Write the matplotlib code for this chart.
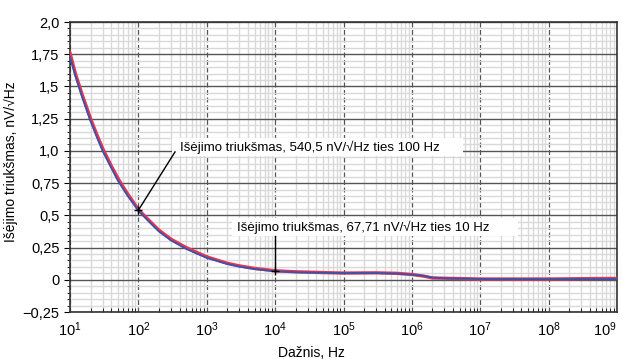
"""
output noise vs frequency (log x axis), two overlapping traces
"""

import matplotlib
matplotlib.use('Agg')
import matplotlib.pyplot as plt
from matplotlib.patches import Rectangle
from matplotlib.ticker import LogLocator, MultipleLocator

plt.rcParams['font.family'] = ['Liberation Sans', 'DejaVu Sans']
plt.rcParams['font.size'] = 10
plt.rcParams['mathtext.fontset'] = 'custom'
plt.rcParams['mathtext.rm'] = 'Liberation Sans'
plt.rcParams['mathtext.it'] = 'Liberation Sans'

# frequency, Hz
freq = [10, 12, 15, 20, 25, 30, 40, 50, 60, 70, 85, 100, 150, 200, 300, 500,
        700, 1000, 2000, 3000, 5000, 1e4, 2e4, 5e4, 1e5, 3e5, 6e5, 1e6,
        1.5e6, 2e6, 3e6, 1e7, 1e8, 6e8, 1e9]
# blue trace, nV/sqrt(Hz)
noise_blue = [1.73, 1.58, 1.42, 1.23, 1.10, 1.00, 0.87, 0.77, 0.705, 0.65,
              0.59, 0.535, 0.44, 0.375, 0.305, 0.24, 0.205, 0.17, 0.122,
              0.102, 0.083, 0.066, 0.058, 0.054, 0.052, 0.052, 0.048, 0.040,
              0.030, 0.017, 0.012, 0.006, 0.005, 0.005, 0.005]
# red trace, nV/sqrt(Hz)
noise_red = [1.76, 1.60, 1.44, 1.25, 1.12, 1.02, 0.885, 0.79, 0.72, 0.665,
             0.60, 0.545, 0.45, 0.385, 0.315, 0.25, 0.215, 0.178, 0.128,
             0.108, 0.088, 0.070, 0.062, 0.056, 0.052, 0.054, 0.050, 0.041,
             0.028, 0.014, 0.012, 0.006, 0.006, 0.010, 0.010]

xticks = [10 ** k for k in range(1, 10)]
xticklabels = ['$10^{%d}$' % k for k in range(1, 10)]
yticks = [-0.25, 0, 0.25, 0.5, 0.75, 1.0, 1.25, 1.5, 1.75, 2.0]
yticklabels = ['\u22120,25', '0', '0,25', '0,5', '0,75', '1,0', '1,25', '1,5',
               '1,75', '2,0']

fig = plt.figure(figsize=(6.23, 3.59), dpi=100)
ax = fig.add_axes([70 / 623, 1 - 312 / 359, 547 / 623, 290 / 359])

ax.set_xscale('log')
ax.set_xlim(10, 1e9)
ax.set_ylim(-0.25, 2.0)

# grid
ax.xaxis.set_minor_locator(LogLocator(base=10, subs=range(2, 10), numticks=20))
ax.yaxis.set_minor_locator(MultipleLocator(0.05))
ax.grid(which='minor', color='#d9d9d9', linewidth=1.0)
ax.grid(which='major', axis='y', color='#555555', linewidth=1.0)
ax.grid(which='major', axis='x', color='#555555', linewidth=0.9,
        linestyle=(0, (4, 2)))
ax.set_axisbelow(True)

for sp in ax.spines.values():
    sp.set_color('#333333')
    sp.set_linewidth(1.2)

ax.set_xticks(xticks)
ax.set_xticklabels(xticklabels, fontsize=10.5)
ax.set_yticks(yticks)
ax.set_yticklabels(yticklabels, fontsize=10.5)
ax.tick_params(axis='x', which='both', direction='in', length=3, pad=6)
ax.tick_params(axis='x', which='major', length=0)
ax.tick_params(axis='y', which='major', direction='out', length=4)
ax.tick_params(axis='y', which='minor', direction='out', length=2)
# last label sits on the right edge; nudge it in so it is not cut off
ax.get_xticklabels()[-1].set_horizontalalignment('right')

ax.plot(freq, noise_red, color='#ee3355', linewidth=2.4, zorder=3)
ax.plot(freq, noise_blue, color='#3355aa', linewidth=1.3, zorder=4)

# white label boxes (hide the grid behind the text)
ax.add_patch(Rectangle((0.1865, 0.538), 0.532, 0.062, transform=ax.transAxes,
                       facecolor='white', edgecolor='none', zorder=2))
ax.add_patch(Rectangle((0.296, 0.262), 0.523, 0.062, transform=ax.transAxes,
                       facecolor='white', edgecolor='none', zorder=2))

ax.text(0.201, 0.569, 'Išėjimo triukšmas, 540,5 nV/\u221aHz ties 100 Hz',
        transform=ax.transAxes, fontsize=9.5, va='center', ha='left', zorder=5)
ax.plot([100, 10 ** (1 + 0.192 * 8)], [0.54, -0.25 + 0.552 * 2.25],
        color='black', linewidth=1.0, zorder=5)
ax.plot([100], [0.54], marker='+', color='black', markersize=6, zorder=6)

ax.text(0.305, 0.293, 'Išėjimo triukšmas, 67,71 nV/\u221aHz ties 10 Hz',
        transform=ax.transAxes, fontsize=9.5, va='center', ha='left', zorder=5)
ax.plot([1e4, 1e4], [0.068, -0.25 + 0.262 * 2.25], color='black',
        linewidth=1.0, zorder=5)
ax.plot([1e4], [0.068], marker='+', color='black', markersize=6, zorder=6)

ax.set_ylabel('Išėjimo triukšmas, nV/\u221aHz', fontsize=10)
ax.yaxis.set_label_coords(-0.095, 0.52)
fig.text(0.5, 1 - 353 / 359, 'Dažnis, Hz', ha='center', va='center',
         fontsize=10)

plt.savefig('out.png', dpi=100)
